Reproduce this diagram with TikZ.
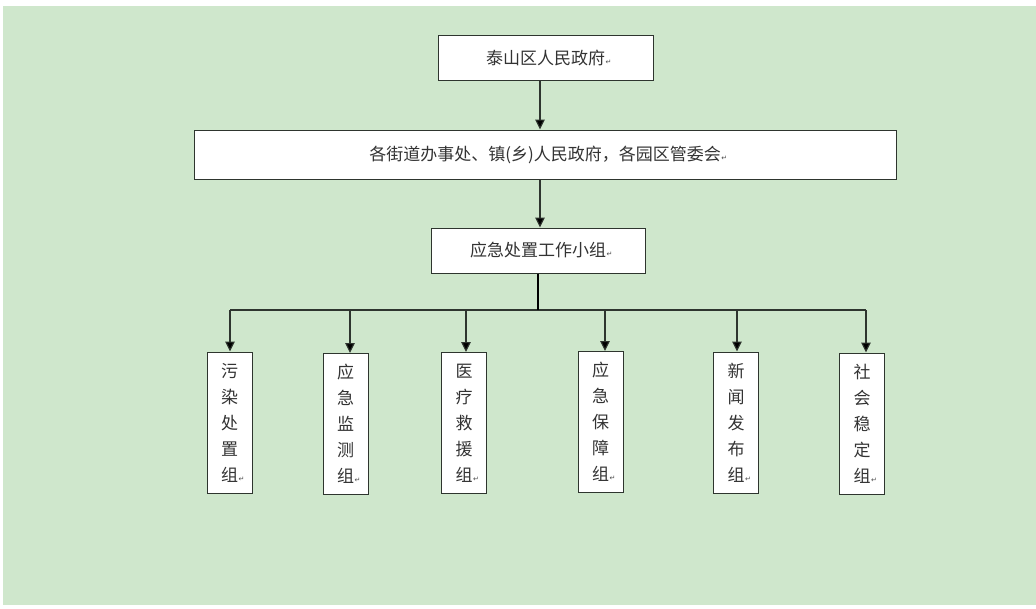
\documentclass[tikz,border=0pt]{standalone}
\usepackage{fontspec}
\newfontfamily\cjk{Noto Sans CJK SC}
\newfontfamily\symfont{DejaVu Sans}
\usetikzlibrary{arrows.meta}
\definecolor{bgreen}{HTML}{CFE7CC}
\definecolor{lineg}{HTML}{2E352E}
\newcommand{\retmk}{\rlap{\kern0.5pt{\symfont\fontsize{7}{7}\selectfont\color{black!70}↵}}}
\tikzset{
  box/.style={draw=lineg, line width=1pt, fill=white, inner sep=0pt, text=black!80,
    font=\cjk\fontsize{17}{26}\selectfont},
  vbox/.style={box, minimum width=45pt, minimum height=141pt, align=center},
  arr/.style={draw=lineg, line width=1.1pt, -{Triangle[length=10pt,width=9.5pt,fill=black]}},
  ln/.style={draw=lineg, line width=1.1pt},
  stub/.style={draw=black, line width=2pt}
}
\begin{document}
\begin{tikzpicture}[x=1pt,y=-1pt]
\useasboundingbox (0,0) rectangle (1036,608);
\fill[white] (0,0) rectangle (1036,608);
\fill[bgreen] (3,6) rectangle (1036,605);

\node[box, minimum width=215pt, minimum height=45pt] (b1) at (545.5,58) {泰山区人民政府\retmk};
\node[box, minimum width=702pt, minimum height=49pt] (b2) at (545,154.5) {各街道办事处、镇(乡)人民政府，各园区管委会\retmk};
\node[box, minimum width=214pt, minimum height=45pt] (b3) at (538,250.5) {应急处置工作小组\retmk};

\coordinate (ax) at (540,0);
\draw[arr] (b1.south -| ax) -- (b2.north -| ax);
\draw[arr] (b2.south -| ax) -- (b3.north -| ax);

\node[vbox] (g1) at (229.5,422.5) {污\\染\\处\\置\\组\retmk};
\node[vbox] (g2) at (345.5,424) {应\\急\\监\\测\\组\retmk};
\node[vbox] (g3) at (464,423) {医\\疗\\救\\援\\组\retmk};
\node[vbox] (g4) at (600.5,422) {应\\急\\保\\障\\组\retmk};
\node[vbox] (g5) at (736,422.5) {新\\闻\\发\\布\\组\retmk};
\node[vbox] (g6) at (862,423.5) {社\\会\\稳\\定\\组\retmk};

\coordinate (bus) at (538,310);
\coordinate (t1) at (230,310);
\coordinate (t2) at (350,310);
\coordinate (t3) at (466,310);
\coordinate (t4) at (605,310);
\coordinate (t5) at (737,310);
\coordinate (t6) at (866,310);

\draw[ln] (t1) -- (t6);
\draw[stub] (b3.south -| bus) -- (bus);
\foreach \i in {1,...,6}{
  \draw[arr] (t\i) -- (t\i |- g\i.north);
}
\end{tikzpicture}
\end{document}
